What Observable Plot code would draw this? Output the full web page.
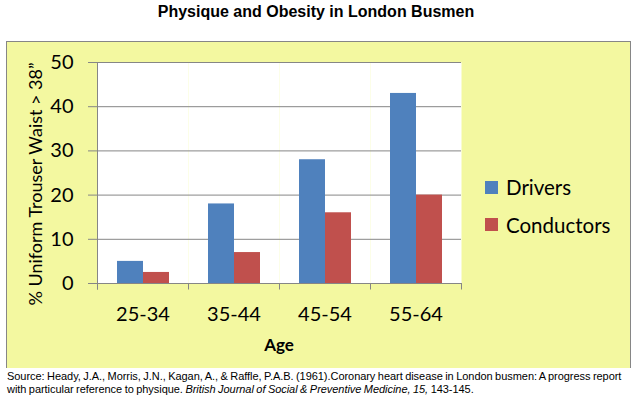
<!DOCTYPE html>
<html>
<head>
<meta charset="utf-8">
<script src="https://cdn.jsdelivr.net/npm/d3@7"></script>
<script src="https://cdn.jsdelivr.net/npm/@observablehq/plot@0.6"></script>
<style>
  html, body { margin: 0; padding: 0; background: #fff; }
  body { width: 642px; height: 397px; position: relative; overflow: hidden; }
  #title { position: absolute; left: 0; top: 3px; width: 632px; text-align: center;
    font: bold 16px "Liberation Sans", Arial, sans-serif; color: #000; }
  #box { position: absolute; left: 6px; top: 41px; width: 625px; height: 329px; box-sizing: border-box;
    border: 1px solid #868686; background: #F3F8A0; }
  #chart { position: absolute; left: 0; top: 0; }
  #ylabel { position: absolute; left: 35px; top: 184px; transform: translate(-50%, -50%) rotate(-90deg);
    white-space: nowrap; font: 18px Lato, sans-serif; color: #000; line-height: 18px; }
  #xlabel { position: absolute; left: 279px; top: 334px; transform: translateX(-50%);
    font: bold 17px Lato, sans-serif; color: #000; white-space: nowrap; }
  .legrow { position: absolute; left: 485px; height: 20px; display: flex; align-items: center;
    font: 20.5px Lato, sans-serif; color: #000; white-space: nowrap; }
  .legrow .sw { width: 13px; height: 13px; margin-right: 8px; }
  #source { position: absolute; left: 0; top: 368px; width: 642px; height: 29px; background: #fff;
    font: 11px "Liberation Sans", Arial, sans-serif; color: #000; }
  #source div { position: absolute; left: 7px; white-space: nowrap; letter-spacing: -0.05px; word-spacing: -0.5px; }
</style>
</head>
<body>
<div id="title">Physique and Obesity in London Busmen</div>
<div id="box"></div>
<div id="chart"></div>
<div id="ylabel">% Uniform Trouser Waist &gt; 38”</div>
<div id="xlabel">Age</div>
<div id="legend"></div>
<div id="source">
  <div id="src1" style="top:2px">Source: Heady, J.A., Morris, J.N., Kagan, A., &amp; Raffle, P.A.B. (1961).Coronary heart disease in London busmen: A progress report</div>
  <div id="src2" style="top:15px">with particular reference to physique. <i>British Journal of Social &amp; Preventive Medicine, 15,</i> 143-145.</div>
</div>
<script>
const ages = ["25-34", "35-44", "45-54", "55-64"];
const series = ["Drivers", "Conductors"];
const drivers = [5, 18, 28, 43];
const conductors = [2.5, 7, 16, 20];
const yTicks = [0, 10, 20, 30, 40, 50];
const colors = ["#4F81BD", "#C0504D"];

const data = [];
ages.forEach((a, i) => {
  data.push({age: a, series: "Drivers", value: drivers[i]});
  data.push({age: a, series: "Conductors", value: conductors[i]});
});

const grey = "#868686";
const chart = Plot.plot({
  width: 470,
  height: 320,
  marginLeft: 90,
  marginRight: 16,
  marginTop: 20,
  marginBottom: 79,
  style: {fontFamily: "Lato, sans-serif", background: "transparent", overflow: "visible", color: "#000"},
  fx: {domain: ages, padding: 0, axis: null, label: null},
  x: {domain: series, paddingInner: 0, paddingOuter: 0.75, axis: null},
  y: {domain: [0, 50], axis: null, label: null},
  color: {domain: series, range: colors},
  marks: [
    Plot.frame({fill: "white", stroke: "none"}),
    Plot.gridY(yTicks, {stroke: grey, strokeOpacity: 1}),
    Plot.barY(data, {fx: "age", x: "series", y: "value", fill: "series"}),
    Plot.axisY(yTicks, {tickSize: 9, tickPadding: 15, fontSize: 20, stroke: grey, fill: "#000", label: null}),
    Plot.axisFx({anchor: "bottom", ticks: ages, tickSize: 0, tickPadding: 23, fontSize: 20, fill: "#000", label: null})
  ]
});

// Excel-style axis lines and boundary ticks, placed with Plot's own scales
const fx = chart.scale("fx"), ys = chart.scale("y");
const svg = d3.select(chart);
const g = svg.append("g").attr("stroke", grey).attr("stroke-width", 1);
const xs = ages.map(a => fx.apply(a)).concat([fx.apply(ages[ages.length - 1]) + fx.bandwidth]);
const y0 = ys.apply(0) + 0.5, yTop = ys.apply(50) + 0.5;
g.append("line").attr("x1", xs[0] + 0.5).attr("x2", xs[0] + 0.5).attr("y1", yTop).attr("y2", y0 + 6);
g.append("line").attr("x1", xs[0]).attr("x2", xs[xs.length - 1] + 1).attr("y1", y0).attr("y2", y0);
xs.forEach(x => g.append("line").attr("x1", x + 0.5).attr("x2", x + 0.5).attr("y1", y0).attr("y2", y0 + 6));

const holder = document.getElementById("chart");
holder.style.left = "7px";
holder.style.top = "42px";
holder.appendChild(chart);

// legend using the chart's color scale
const color = chart.scale("color");
const legend = document.getElementById("legend");
series.forEach((s, i) => {
  const row = document.createElement("div");
  row.className = "legrow";
  row.style.top = (177 + i * 37.5) + "px";
  const sw = document.createElement("span");
  sw.className = "sw";
  sw.style.background = color.apply(s);
  row.appendChild(sw);
  row.appendChild(document.createTextNode(s));
  legend.appendChild(row);
});
</script>
</body>
</html>
